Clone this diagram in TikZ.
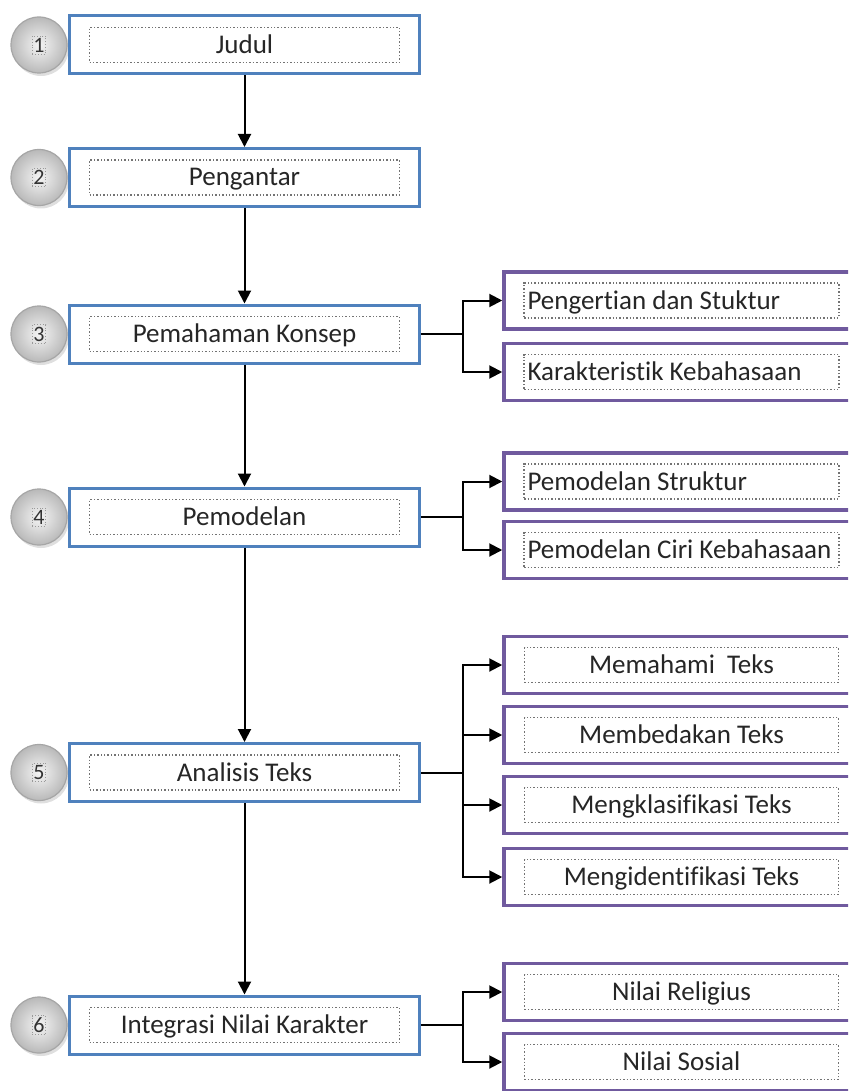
\documentclass[tikz,border=0pt]{standalone}
\usepackage{fontspec}
\setmainfont{Carlito}[Ligatures=NoCommon]
\usepackage{tikz}
\usetikzlibrary{arrows.meta, positioning, shadows}

\definecolor{boxblue}{RGB}{79,129,189}
\definecolor{boxpurple}{RGB}{112,90,158}

\begin{document}
\begin{tikzpicture}[x=1pt, y=-1pt,
                stepnum/.style={circle, draw=gray!70, line width=1.2pt, shading=radial, inner color=gray!8, outer color=gray!55, minimum size=56pt, drop shadow={opacity=0.25, shadow xshift=2pt, shadow yshift=-3pt}},
                numtag/.style={draw=gray!80, dotted, line width=0.8pt, inner xsep=1pt, inner ysep=2pt, font=\fontsize{22}{22}\selectfont, text=black!80},
                mainbox/.style={draw=boxblue, line width=3pt, fill=white, minimum width=350pt, minimum height=58pt},
                subbox/.style={draw=boxpurple, line width=3.5pt, fill=white, minimum width=355pt, minimum height=57pt},
                inbox/.style={draw=black!55, dotted, line width=1.4pt, minimum height=35pt, inner ysep=0pt, text height=21pt, text depth=4pt, text=black!85, font=\fontsize{27}{30}\selectfont},
                inmain/.style={inbox, minimum width=310pt},
                insub/.style={inbox, minimum width=314pt},
                arrow/.style={-{Triangle[length=13pt,width=13pt]}, line width=2pt},
                link/.style={line width=2pt}
            ]
            \useasboundingbox (0,0) rectangle (848,1091);
            \clip (0,0) rectangle (848,1091);

            % Step circles
            \node[stepnum] (c1) at (39,45) {};
            \node[stepnum] (c2) at (39,177.5) {};
            \node[stepnum] (c3) at (39,334) {};
            \node[stepnum] (c4) at (39,517) {};
            \node[stepnum] (c5) at (39,772.5) {};
            \node[stepnum] (c6) at (39,1025) {};
            \node[numtag] (n1) at (c1) {1};
            \node[numtag] (n2) at (c2) {2};
            \node[numtag] (n3) at (c3) {3};
            \node[numtag] (n4) at (c4) {4};
            \node[numtag] (n5) at (c5) {5};
            \node[numtag] (n6) at (c6) {6};

            % Main steps
            \node[mainbox] (b1) at (244.5,45) {};
            \node[mainbox] (b2) at (244.5,177.5) {};
            \node[mainbox] (b3) at (244.5,334) {};
            \node[mainbox] (b4) at (244.5,517) {};
            \node[mainbox] (b5) at (244.5,772.5) {};
            \node[mainbox] (b6) at (244.5,1025) {};
            \node[inmain] (t1) at (b1) {Judul};
            \node[inmain] (t2) at (b2) {Pengantar};
            \node[inmain] (t3) at (b3) {Pemahaman Konsep};
            \node[inmain] (t4) at (b4) {Pemodelan};
            \node[inmain] (t5) at (b5) {Analisis Teks};
            \node[inmain] (t6) at (b6) {Integrasi Nilai Karakter};

            % Sub steps
            \node[subbox] (s31) at (681.5,300.5) {};
            \node[subbox] (s32) at (681.5,372) {};
            \node[insub] (u31) at (s31) {\makebox[308pt][l]{Pengertian dan Stuktur}};
            \node[insub] (u32) at (s32) {\makebox[308pt][l]{Karakteristik Kebahasaan}};

            \node[subbox] (s41) at (681.5,481.5) {};
            \node[subbox] (s42) at (681.5,550) {};
            \node[insub] (u41) at (s41) {\makebox[308pt][l]{Pemodelan Struktur}};
            \node[insub] (u42) at (s42) {\makebox[308pt][l]{Pemodelan Ciri Kebahasaan}};

            \node[subbox] (s51) at (681.5,665) {};
            \node[subbox] (s52) at (681.5,735) {};
            \node[subbox] (s53) at (681.5,805) {};
            \node[subbox] (s54) at (681.5,877) {};
            \node[insub] (u51) at (s51) {Memahami\ \ Teks};
            \node[insub] (u52) at (s52) {Membedakan Teks};
            \node[insub] (u53) at (s53) {Mengklasifikasi Teks};
            \node[insub] (u54) at (s54) {Mengidentifikasi Teks};

            \node[subbox] (s61) at (681.5,992) {};
            \node[subbox] (s62) at (681.5,1062) {};
            \node[insub] (u61) at (s61) {Nilai Religius};
            \node[insub] (u62) at (s62) {Nilai Sosial};

            % Main flow
            \draw[arrow] (b1) -- (b2);
            \draw[arrow] (b2) -- (b3);
            \draw[arrow] (b3) -- (b4);
            \draw[arrow] (b4) -- (b5);
            \draw[arrow] (b5) -- (b6);

            % Branches
            \coordinate (j3) at (463,334);
            \coordinate (j4) at (463,517);
            \coordinate (j5) at (463,772.5);
            \coordinate (j6) at (463,1025);
            \draw[link] (b3) -- (j3);
            \draw[arrow] (j3) |- (s31);
            \draw[arrow] (j3) |- (s32);
            \draw[link] (b4) -- (j4);
            \draw[arrow] (j4) |- (s41);
            \draw[arrow] (j4) |- (s42);
            \draw[link] (b5) -- (j5);
            \draw[arrow] (j5) |- (s51);
            \draw[arrow] (j5) |- (s52);
            \draw[arrow] (j5) |- (s53);
            \draw[arrow] (j5) |- (s54);
            \draw[link] (b6) -- (j6);
            \draw[arrow] (j6) |- (s61);
            \draw[arrow] (j6) |- (s62);
\end{tikzpicture}
\end{document}
